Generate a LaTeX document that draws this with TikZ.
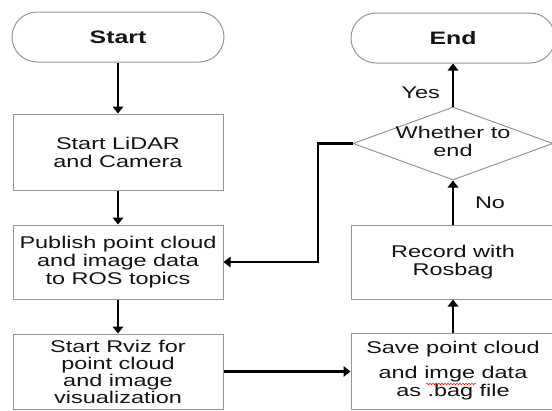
\documentclass[tikz,border=0pt]{standalone}
\usepackage{fontspec}
\setmainfont{Liberation Sans}[FakeStretch=1.38]
\usetikzlibrary{arrows.meta,shapes.geometric,calc,decorations.pathmorphing}
\definecolor{boxgray}{RGB}{150,150,150}
\definecolor{ink}{RGB}{20,20,20}
\begin{document}
\begin{tikzpicture}[x=1pt,y=-1pt,
  txt/.style={text=ink, font=\fontsize{17}{18}\selectfont},
  box/.style={txt, draw=boxgray, line width=1pt, rectangle, align=center, inner sep=0pt},
  term/.style={box, rounded corners=25pt, font=\fontsize{18}{20}\selectfont\bfseries},
  dia/.style={txt, draw=boxgray, line width=1pt, diamond, inner sep=0pt, minimum width=200pt, minimum height=73pt},
  arr/.style={line width=2.1pt, -{Triangle[length=7pt,width=10.5pt]}},
  lab/.style={txt, inner sep=0pt}]
\clip (0,0) rectangle (552,410);
\fill[white] (0,0) rectangle (552,410);
% left column
\node[term, minimum width=212pt, minimum height=50pt] (start) at (118,37) {Start};
\node[box, minimum width=210pt, minimum height=76pt] (lidar) at (118,152) {Start LiDAR\\and Camera};
\node[box, minimum width=210pt, minimum height=74pt] (pub) at (118,262) {Publish point cloud\\and image data\\to ROS topics};
\node[box, minimum width=210pt, minimum height=75pt, font=\fontsize{17}{17}\selectfont] (rviz) at (118,371.5) {Start Rviz for\\point cloud\\and image\\visualization};
% right column
\node[term, minimum width=204pt, minimum height=50pt] (end) at (453,38) {End};
\node[dia] (dec) at (453,143.5) {\makebox[0pt]{\begin{tabular}{@{}c@{}}Whether to\\end\end{tabular}}};
\node[box, minimum width=204pt, minimum height=74pt] (rec) at (453,262) {Record with\\Rosbag};
\node[box, minimum width=204pt, minimum height=76pt] (save) at (453,371) {Save point cloud\\[7pt]and imge data\\as .bag file};
\coordinate (loopc) at (318,0);
% connectors
\draw[arr] (start.south) -- (lidar.north);
\draw[arr] (lidar.south) -- (pub.north);
\draw[arr] (pub.south) -- (rviz.north);
\draw[arr] (rviz.east) -- (rviz.east -| save.west);
\draw[arr] (save.north) -- (rec.south);
\draw[arr] (rec.north) -- node[lab, pos=0.49, right=21pt] {No} (dec.south);
\draw[arr] (dec.north) -- node[lab, pos=0.32, left=12pt] {Yes} (end.south);
\draw[arr] (dec.west) -- (dec.west -| loopc) |- (pub.east);
% spell-check squiggle
\draw[red, line width=0.5pt, decorate, decoration={snake, amplitude=0.8pt, segment length=3pt}] ($(save.center)+(-27,13)$) -- ($(save.center)+(23,13)$);
\end{tikzpicture}
\end{document}
